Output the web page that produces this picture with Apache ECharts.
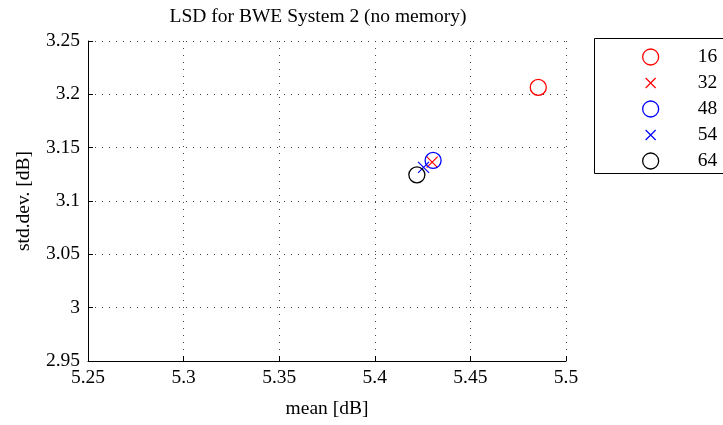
<!DOCTYPE html>
<html><head><meta charset="utf-8">
<script src="https://cdn.jsdelivr.net/npm/echarts@6/dist/echarts.min.js"></script>
<style>html,body{margin:0;padding:0;background:#fff}#c{width:723px;height:425px}</style>
</head><body><div id="c"></div>
<script>
const seriesNames = ['16', '32', '48', '54', '64'];
const meanValues = [5.4855, 5.4300, 5.4305, 5.4255, 5.4220];
const stdValues = [3.2065, 3.1365, 3.1380, 3.1315, 3.1245];
const seriesColors = ['#ff0000', '#ff0000', '#0000ff', '#0000ff', '#000000'];
const seriesMarkers = ['circle', 'x', 'circle', 'x', 'circle'];
const xTicks = [5.25, 5.5, 0.05];
const yTicks = [2.95, 3.25, 0.05];

const XPATH = 'path://M0,0L10,10M10,0L0,10';
const XLEG = 'path://M0,0L0,0.01M3,3L13,13M13,3L3,13M16,16L16,15.99';
const font = 'Liberation Serif';
const FS = 19.5;
const chart = echarts.init(document.getElementById('c'));
const styleFor = i => seriesMarkers[i] === 'x'
  ? { color: 'transparent', borderColor: seriesColors[i], borderWidth: 1.2, opacity: 1 }
  : { color: 'transparent', borderColor: seriesColors[i], borderWidth: 1.3, opacity: 1 };
const series = seriesNames.map((n, i) => ({
  name: n,
  type: 'scatter',
  data: [[meanValues[i], stdValues[i]]],
  symbol: seriesMarkers[i] === 'x' ? XPATH : 'circle',
  symbolSize: seriesMarkers[i] === 'x' ? 11 : 16,
  itemStyle: styleFor(i),
  emphasis: { disabled: true },
  z: 5
}));
chart.setOption({
  animation: false,
  backgroundColor: '#fff',
  title: {
    text: 'LSD for BWE System 2 (no memory)',
    left: 313, top: 2, textAlign: 'center',
    textStyle: { fontFamily: font, fontSize: FS, fontWeight: 'normal', color: '#000' }
  },
  graphic: [{
    type: 'rect', left: 594, top: 38, z: 0,
    shape: { width: 140, height: 135 },
    style: { fill: '#fff', stroke: '#000', lineWidth: 1 }
  }],
  legend: {
    orient: 'vertical',
    left: 637, top: 42,
    itemWidth: 16, itemHeight: 16, itemGap: 6,
    data: seriesNames.map((n, i) => ({
      name: n,
      icon: seriesMarkers[i] === 'x' ? XLEG : 'circle',
      itemStyle: styleFor(i)
    })),
    textStyle: { fontFamily: font, fontSize: FS, color: '#000', lineHeight: 16, padding: [0, 0, 0, 34] },
    z: 10
  },
  grid: { left: 88, right: 157, top: 41, bottom: 64 },
  xAxis: {
    type: 'value', min: xTicks[0], max: xTicks[1], interval: xTicks[2],
    name: 'mean [dB]', nameLocation: 'middle', nameGap: 38,
    nameTextStyle: { fontFamily: font, fontSize: FS, color: '#000' },
    axisLine: { onZero: false, lineStyle: { color: '#000', width: 1 } },
    axisTick: { inside: true, length: 5, lineStyle: { color: '#000' } },
    axisLabel: { fontFamily: font, fontSize: FS, color: '#000', margin: 7,
      formatter: v => String(+v.toFixed(2)) },
    splitLine: { show: true, lineStyle: { color: '#444', type: [1, 6], width: 1 } }
  },
  yAxis: {
    type: 'value', min: yTicks[0], max: yTicks[1], interval: yTicks[2],
    name: 'std.dev. [dB]', nameLocation: 'middle', nameGap: 54,
    nameTextStyle: { fontFamily: font, fontSize: FS, color: '#000' },
    axisLine: { show: true, onZero: false, lineStyle: { color: '#000', width: 1 } },
    axisTick: { show: true, inside: true, length: 5, lineStyle: { color: '#000' } },
    axisLabel: { fontFamily: font, fontSize: FS, color: '#000', margin: 8,
      formatter: v => String(+v.toFixed(2)) },
    splitLine: { show: true, lineStyle: { color: '#444', type: [1, 6], width: 1 } }
  },
  series: series
});
</script></body></html>
